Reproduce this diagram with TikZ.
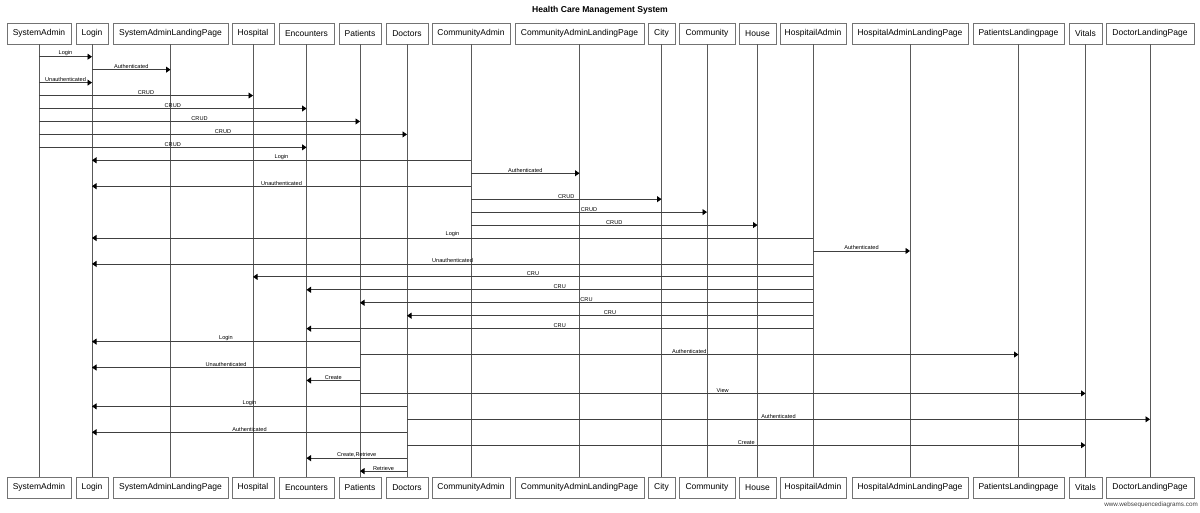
\documentclass[tikz,border=0pt]{standalone}
\usepackage{fontspec}
\setmainfont{Liberation Sans}
\usetikzlibrary{arrows.meta}
\newcommand\seqmsg[4]{%
  \pgfmathsetmacro\msgy{56.7+12.95*(#3-1)}%
  \draw[msgline] (#1 |- 0,\msgy) -- node[msglbl]{#4} (#2 |- 0,\msgy);}
\begin{document}
\begin{tikzpicture}[x=1pt,y=-1pt,
  actor/.style={draw=black!55,line width=0.7pt,fill=white,minimum height=21pt,inner sep=0pt,font=\fontsize{8.5}{10}\selectfont},
  life/.style={draw=black!65,line width=0.8pt},
  msgline/.style={draw=black!75,line width=0.8pt,-{Triangle[length=4.5pt,width=6pt,black]}},
  msglbl/.style={above,inner sep=0.6pt,font=\fontsize{5.6}{6}\selectfont},
]
\useasboundingbox (0,0) rectangle (1200,512);
\node[font=\bfseries\fontsize{8.6}{10}\selectfont] (title) at (600,10) {Health Care Management System};
% actors: name / x / width / text
\foreach \n/\x/\w/\t in {sa/39/64/SystemAdmin, login/92/32/Login, salp/170.5/115/SystemAdminLandingPage,
  hosp/253/42/Hospital, enc/306.5/55/Encounters, pat/360/42/Patients, doc/407/42/Doctors,
  ca/471/78/CommunityAdmin, calp/579.5/129/CommunityAdminLandingPage, city/661.5/27/City,
  comm/707/56/Community, house/757.5/37/House, ha/813/66/HospitailAdmin,
  halp/910/116/HospitalAdminLandingPage, plp/1018.5/91/PatientsLandingpage,
  vit/1085.5/33/Vitals, dlp/1150/88/DoctorLandingPage}{
  \node[actor,minimum width=\w pt] (\n) at (\x,33.5) {\t};
  \node[actor,minimum width=\w pt] (\n-b) at (\x,487.5) {\t};
  \draw[life] (\n.south) -- (\n-b.north);
}
\seqmsg{sa}{login}{1}{Login}
\seqmsg{login}{salp}{2}{Authenticated}
\seqmsg{sa}{login}{3}{Unauthenticated}
\seqmsg{sa}{hosp}{4}{CRUD}
\seqmsg{sa}{enc}{5}{CRUD}
\seqmsg{sa}{pat}{6}{CRUD}
\seqmsg{sa}{doc}{7}{CRUD}
\seqmsg{sa}{enc}{8}{CRUD}
\seqmsg{ca}{login}{9}{Login}
\seqmsg{ca}{calp}{10}{Authenticated}
\seqmsg{ca}{login}{11}{Unauthenticated}
\seqmsg{ca}{city}{12}{CRUD}
\seqmsg{ca}{comm}{13}{CRUD}
\seqmsg{ca}{house}{14}{CRUD}
\seqmsg{ha}{login}{15}{Login}
\seqmsg{ha}{halp}{16}{Authenticated}
\seqmsg{ha}{login}{17}{Unauthenticated}
\seqmsg{ha}{hosp}{18}{CRU}
\seqmsg{ha}{enc}{19}{CRU}
\seqmsg{ha}{pat}{20}{CRU}
\seqmsg{ha}{doc}{21}{CRU}
\seqmsg{ha}{enc}{22}{CRU}
\seqmsg{pat}{login}{23}{Login}
\seqmsg{pat}{plp}{24}{Authenticated}
\seqmsg{pat}{login}{25}{Unauthenticated}
\seqmsg{pat}{enc}{26}{Create}
\seqmsg{pat}{vit}{27}{View}
\seqmsg{doc}{login}{28}{Login}
\seqmsg{doc}{dlp}{29}{Authenticated}
\seqmsg{doc}{login}{30}{Authenticated}
\seqmsg{doc}{vit}{31}{Create}
\seqmsg{doc}{enc}{32}{Create,Retrieve}
\seqmsg{doc}{pat}{33}{Retrieve}
\node[anchor=east,inner sep=0pt,text=black!75,font=\fontsize{6.3}{7}\selectfont] (wm) at (1198,505) {www.websequencediagrams.com};
\end{tikzpicture}
\end{document}
